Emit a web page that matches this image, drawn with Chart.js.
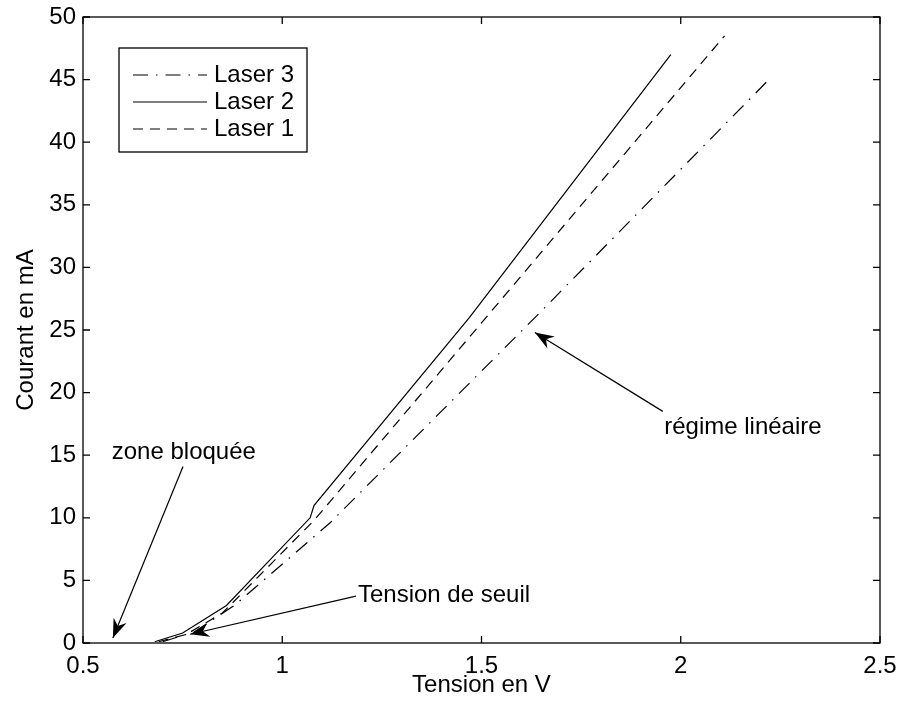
<!DOCTYPE html>
<html>
<head>
<meta charset="utf-8">
<script src="https://cdn.jsdelivr.net/npm/chart.js@4/dist/chart.umd.min.js"></script>
<style>
html, body { margin:0; padding:0; background:#fff; }
</style>
</head>
<body>
<canvas id="chart" width="898" height="706"></canvas>
<script>
// courbes I(V) des trois lasers
const seriesNames = ['Laser 3', 'Laser 2', 'Laser 1']
const laser3V = [0.70, 0.78, 0.88, 1.12, 1.65, 2.215]
const laser3I = [0.1, 0.9, 3.0, 9.6, 26.5, 44.8]
const laser2V = [0.68, 0.75, 0.86, 1.07, 1.08, 1.47, 1.975]
const laser2I = [0.1, 0.8, 3.0, 10.0, 11.0, 26.0, 47.0]
const laser1V = [0.69, 0.76, 0.85, 1.08, 1.12, 1.57, 2.11]
const laser1I = [0.1, 0.7, 2.4, 9.8, 11.3, 28.2, 48.5]

const xTicks = [0.5, 1, 1.5, 2, 2.5]
const yTicks = [0, 5, 10, 15, 20, 25, 30, 35, 40, 45, 50]

// annotations (coordonnées en V / mA)
const noteTexts = ['zone bloquée', 'Tension de seuil', 'régime linéaire']
const noteX = [0.753, 1.19, 2.156]
const noteY = [15.25, 3.83, 17.2]
const noteAlign = ['center', 'left', 'center']
const arrowFromX = [0.751, 1.185, 1.955]
const arrowFromY = [14.1, 3.75, 18.5]
const arrowToX = [0.575, 0.769, 1.634]
const arrowToY = [0.4, 0.7, 24.8]

const FONT = "'Liberation Sans', Arial, Helvetica, sans-serif"
const FSIZE = 24
const dashes = [[15, 8, 1.5, 8], [], [10, 7]]

function toPoints(xs, ys) {
  return xs.map((v, i) => ({x: v, y: ys[i]}))
}

const allData = [toPoints(laser3V, laser3I), toPoints(laser2V, laser2I), toPoints(laser1V, laser1I)]

const datasets = seriesNames.map((name, i) => ({
  label: name,
  data: allData[i],
  borderColor: '#000',
  borderWidth: 1.2,
  borderDash: dashes[i],
  pointRadius: 0,
  fill: false,
  tension: 0
}))

function drawArrow(ctx, x1, y1, x2, y2) {
  ctx.beginPath()
  ctx.moveTo(x1, y1)
  ctx.lineTo(x2, y2)
  ctx.stroke()
  const a = Math.atan2(y2 - y1, x2 - x1)
  const len = 19, half = 7, notch = 13
  const bx = x2 - len * Math.cos(a), by = y2 - len * Math.sin(a)
  const nx = x2 - notch * Math.cos(a), ny = y2 - notch * Math.sin(a)
  ctx.beginPath()
  ctx.moveTo(x2, y2)
  ctx.lineTo(bx - half * Math.sin(a), by + half * Math.cos(a))
  ctx.lineTo(nx, ny)
  ctx.lineTo(bx + half * Math.sin(a), by - half * Math.cos(a))
  ctx.closePath()
  ctx.fill()
}

const matlabBox = {
  id: 'matlabBox',
  afterDatasetsDraw(chart) {
    const ctx = chart.ctx
    const a = chart.chartArea
    const xs = chart.scales.x, ys = chart.scales.y
    ctx.save()
    ctx.strokeStyle = '#000'
    ctx.fillStyle = '#000'
    ctx.lineWidth = 1.3
    ctx.setLineDash([])
    ctx.strokeRect(a.left, a.top, a.right - a.left, a.bottom - a.top)
    // ticks vers l'interieur
    const tl = 7
    ctx.beginPath()
    xTicks.forEach(v => {
      const p = xs.getPixelForValue(v)
      ctx.moveTo(p, a.bottom); ctx.lineTo(p, a.bottom - tl)
      ctx.moveTo(p, a.top); ctx.lineTo(p, a.top + tl)
    })
    yTicks.forEach(v => {
      const p = ys.getPixelForValue(v)
      ctx.moveTo(a.left, p); ctx.lineTo(a.left + tl, p)
      ctx.moveTo(a.right, p); ctx.lineTo(a.right - tl, p)
    })
    ctx.stroke()

    // annotations
    ctx.lineWidth = 1.2
    ctx.font = FSIZE + 'px ' + FONT
    ctx.textBaseline = 'middle'
    noteTexts.forEach((t, i) => {
      ctx.textAlign = noteAlign[i]
      ctx.fillText(t, xs.getPixelForValue(noteX[i]), ys.getPixelForValue(noteY[i]))
      drawArrow(ctx, xs.getPixelForValue(arrowFromX[i]), ys.getPixelForValue(arrowFromY[i]),
        xs.getPixelForValue(arrowToX[i]), ys.getPixelForValue(arrowToY[i]))
    })

    // legende
    const lx = 119, ly = 48, lw = 188, lh = 104
    ctx.fillStyle = '#fff'
    ctx.fillRect(lx, ly, lw, lh)
    ctx.strokeStyle = '#000'
    ctx.lineWidth = 1.3
    ctx.strokeRect(lx, ly, lw, lh)
    ctx.fillStyle = '#000'
    ctx.textAlign = 'left'
    seriesNames.forEach((name, i) => {
      const y = ly + 27 + i * 27
      ctx.lineWidth = 1.2
      ctx.setLineDash(dashes[i])
      ctx.beginPath()
      ctx.moveTo(133, y); ctx.lineTo(207, y)
      ctx.stroke()
      ctx.setLineDash([])
      ctx.fillText(name, 214, y)
    })
    ctx.restore()
  }
}

new Chart(document.getElementById('chart'), {
  type: 'line',
  data: { datasets: datasets },
  options: {
    responsive: false,
    animation: false,
    layout: { padding: { left: 0, top: 17, right: 18, bottom: 0 } },
    plugins: { legend: { display: false }, tooltip: { enabled: false } },
    scales: {
      x: {
        type: 'linear',
        min: 0.5, max: 2.5,
        grid: { display: false, drawTicks: false },
        border: { display: false },
        ticks: { stepSize: 0.5, padding: 9, color: '#000', font: { family: FONT, size: FSIZE },
          maxRotation: 0, callback: v => String(v) },
        title: { display: true, text: 'Tension en V', color: '#000', font: { family: FONT, size: FSIZE },
          padding: { top: 0, bottom: 6 } },
        afterFit: s => { s.height = 63; s.paddingLeft = 0; s.paddingRight = 0 }
      },
      y: {
        type: 'linear',
        min: 0, max: 50,
        grid: { display: false, drawTicks: false },
        border: { display: false },
        ticks: { stepSize: 5, padding: 7, color: '#000', font: { family: FONT, size: FSIZE },
          callback: v => String(v) },
        title: { display: true, text: 'Courant en mA', color: '#000', font: { family: FONT, size: FSIZE },
          padding: { top: 12, bottom: 0 } },
        afterFit: s => { s.width = 83; s.paddingTop = 0; s.paddingBottom = 0 }
      }
    }
  },
  plugins: [matlabBox]
})
</script>
</body>
</html>
